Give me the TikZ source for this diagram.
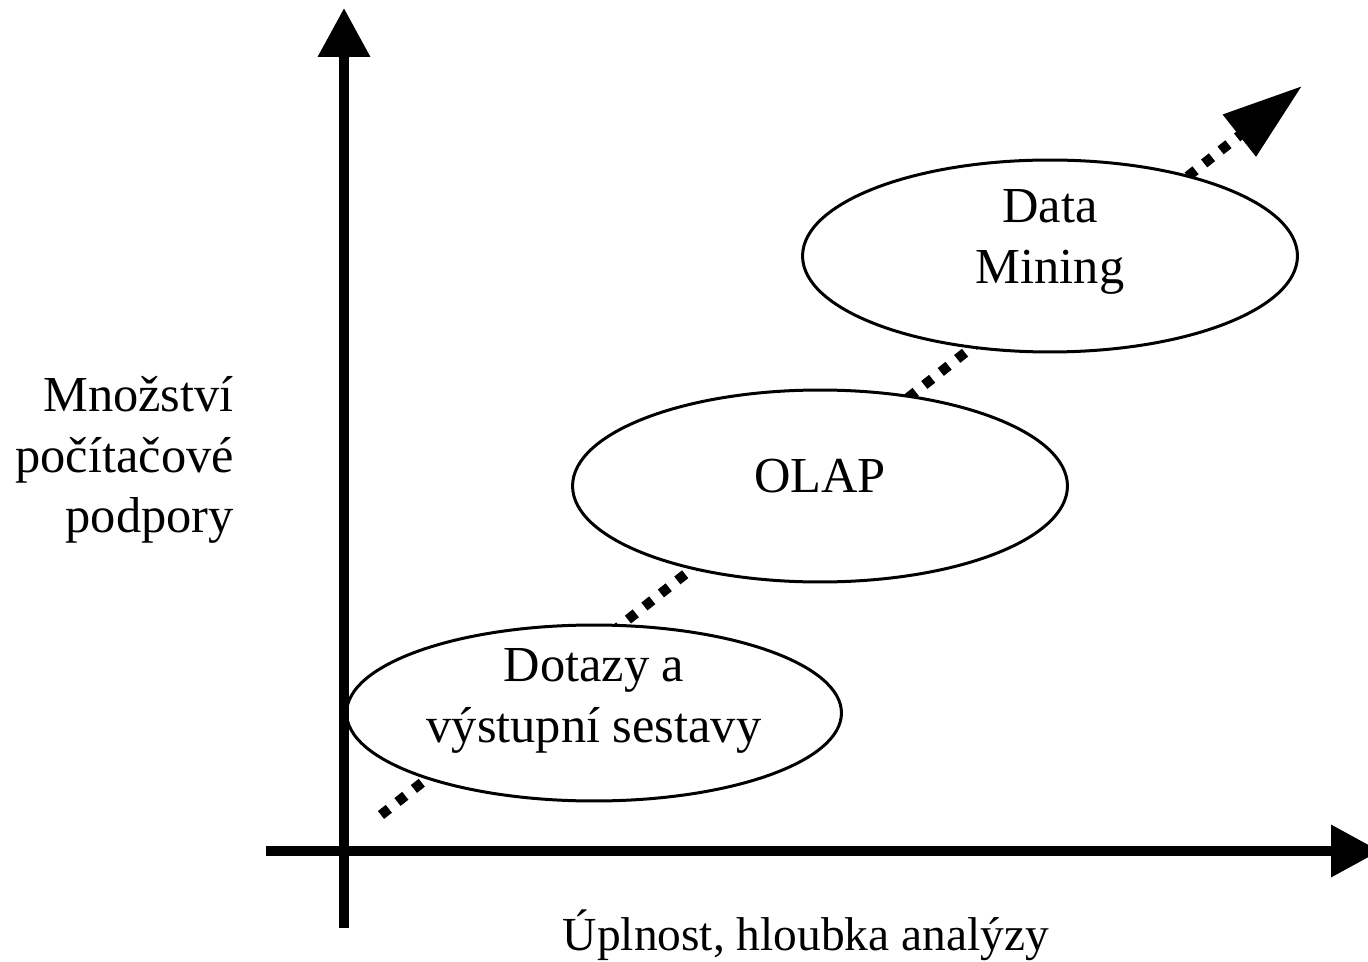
\documentclass[tikz,border=0pt]{standalone}
\usepackage{fontspec}
\setmainfont{Liberation Serif}
\usetikzlibrary{arrows.meta, shapes.geometric, positioning}

\begin{document}
\begin{tikzpicture}[x=0.02cm, y=-0.02cm,
  every node/.style={font=\fontsize{28.7}{34.5}\selectfont},
  axis/.style={line width=0.2cm, -{Triangle[length=0.98cm, width=1cm]}},
  trend/.style={line width=0.2cm, dash pattern=on 0.2cm off 0.22cm, -{Triangle[length=1.6cm, width=1.02cm]}},
  blob/.style={ellipse, draw, line width=0.06cm, fill=white, minimum width=9.9cm, minimum height=3.84cm, inner sep=0pt},
  stage/.style={align=center, inner sep=0pt}]
\useasboundingbox (0,0) rectangle (1368,962);
\clip (0,0) rectangle (1368,962);

% Trend line
\coordinate (start) at (381,815);
\coordinate (tip) at (1302,86);
\draw[trend] (start) -- (tip);

% Stages
\node[blob, minimum height=3.52cm] (dotazy) at (594,713) {};
\node[blob] (olap) at (820,486) {};
\node[blob] (mining) at (1050,256) {};
\node[stage] (dotazytext) at ([yshift=0.24cm]dotazy.center) {Dotazy a\\výstupní sestavy};
\node[stage] (olaptext) at ([yshift=0.2cm]olap.center) {OLAP};
\node[stage] (miningtext) at ([yshift=0.28cm]mining.center) {Data\\Mining};

% Axes
\coordinate (ybot) at (344,928);
\coordinate (ytop) at (344,8);
\coordinate (xleft) at (266,851);
\coordinate (xright) at (1380,851);
\draw[axis] (ybot) -- (ytop);
\draw[axis] (xleft) -- (xright);

% Axis labels
\node[anchor=east, align=right] (ylabel) at (240,460) {Množství\\počítačové\\podpory};
\node[anchor=base, font=\fontsize{27}{33}\selectfont] (xlabel) at (806,950) {Úplnost, hloubka analýzy};
\end{tikzpicture}
\end{document}
